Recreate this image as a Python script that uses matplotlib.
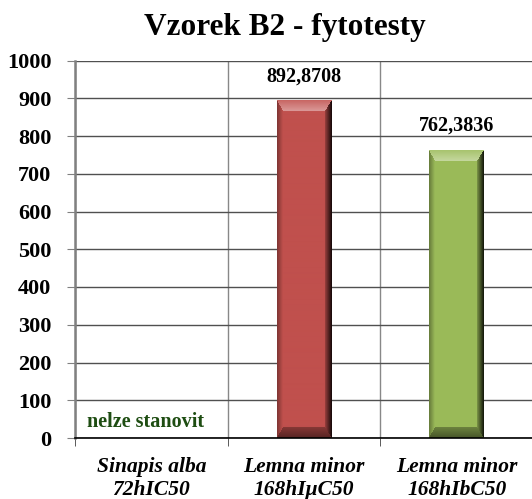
import numpy as np
import matplotlib
matplotlib.use("Agg")
import matplotlib.pyplot as plt
from matplotlib.colors import to_rgb

# Chart data
categories = ["Sinapis alba\n72hIC50", "Lemna minor\n168hI\u03bcC50", "Lemna minor\n168hIbC50"]
values = [0.0, 892.8708, 762.3836]
value_labels = ["nelze stanovit", "892,8708", "762,3836"]
bar_colors = ["#4F81BD", "#C0504D", "#9BBB59"]
label_colors = ["#1E4D12", "black", "black"]
y_ticks = list(range(0, 1001, 100))

title = "Vzorek B2 - fytotesty"

plt.rcParams["font.family"] = ["Liberation Serif", "DejaVu Serif"]


def bevel_image(color, nx, ny):
    # Bevelled bar face: light top, dark bottom, dark right edge
    base = np.array(to_rgb(color))
    jj, ii = np.meshgrid(np.arange(nx) + 0.5, np.arange(ny) + 0.5)
    widths = [6.0, 7.0, 11.0, 11.0]  # left, right, top, bottom (px)
    dists = np.stack([jj / widths[0], (nx - jj) / widths[1],
                      ii / widths[2], (ny - ii) / widths[3]])
    which = np.argmin(dists, axis=0)
    t = np.clip(np.min(dists, axis=0), 0, 1)
    amt = np.zeros((ny, nx))
    amt = np.where(which == 0, -0.35 * (1 - t), amt)
    amt = np.where(which == 1, -0.2 - 0.7 * (1 - t), amt)
    amt = np.where(which == 2, 0.12 + 0.3 * t, amt)
    amt = np.where(which == 3, -0.55 + 0.25 * t, amt)
    amt[t >= 1] = 0.0
    img = np.zeros((ny, nx, 3))
    for c in range(3):
        img[..., c] = np.where(amt > 0, base[c] + (1 - base[c]) * amt,
                               base[c] * (1 + amt))
    return np.clip(img, 0, 1)


fig = plt.figure(figsize=(5.32, 4.99), dpi=100)
ax = fig.add_axes([75 / 532, 61 / 499, 458 / 532, 377.5 / 499])

x = np.arange(len(categories))
ax.set_xlim(-0.5, len(categories) - 0.5)
ax.set_ylim(0, 1000)

bar_width = 0.36
bars = ax.bar(x, values, width=bar_width, color=bar_colors, zorder=3)

# Bevel shading over each bar
fig.canvas.draw()
for rect, col, val in zip(bars, bar_colors, values):
    if val <= 0:
        continue
    x0 = rect.get_x()
    x1 = x0 + rect.get_width()
    p0 = ax.transData.transform((x0, 0))
    p1 = ax.transData.transform((x1, val))
    nx = max(int(round(p1[0] - p0[0])), 2)
    ny = max(int(round(p1[1] - p0[1])), 2)
    img = bevel_image(col, nx, ny)
    ax.imshow(img, extent=(x0, x1, 0, val), aspect="auto", zorder=4,
              interpolation="bilinear")
    rect.set_visible(False)

ax.set_xlim(-0.5, len(categories) - 0.5)
ax.set_ylim(0, 1000)

# Value labels
for xi, val, lab, lc in zip(x, values, value_labels, label_colors):
    if val > 0:
        ax.text(xi, val + 64, lab, ha="center", va="center", fontsize=14.5,
                fontweight="bold", color=lc, zorder=5)
    else:
        ax.text(xi - 0.036, 42, lab, ha="center", va="center", fontsize=14.5,
                fontweight="bold", color=lc, zorder=5)

# Axes styling
ax.set_yticks(y_ticks)
ax.set_yticklabels([str(v) for v in y_ticks], fontsize=16, fontweight="bold")
ax.set_xticks(x)
ax.set_xticklabels(categories, fontsize=15.5, fontweight="bold", style="italic",
                   linespacing=1.2)
ax.set_xticks(np.arange(len(categories) + 1) - 0.5, minor=True)
ax.tick_params(axis="x", which="major", length=0, pad=14)
ax.tick_params(axis="x", which="minor", length=6, color="#404040", direction="out")
ax.tick_params(axis="y", length=6, color="#808080", direction="out", pad=11)

ax.grid(axis="y", color="#505050", linewidth=1.0, zorder=0)
ax.grid(axis="x", which="minor", color="#888888", linewidth=1.0, zorder=0)
ax.set_axisbelow(True)

for side in ["top", "right"]:
    ax.spines[side].set_visible(False)
ax.spines["left"].set_color("#808080")
ax.spines["left"].set_linewidth(1.8)
ax.spines["bottom"].set_color("black")
ax.spines["bottom"].set_linewidth(1.2)
ax.spines["bottom"].set_zorder(6)

fig.text(285 / 532, 1 - 27 / 499, title, ha="center", va="center",
         fontsize=22.5, fontweight="bold")

fig.savefig("out.png", dpi=100)
